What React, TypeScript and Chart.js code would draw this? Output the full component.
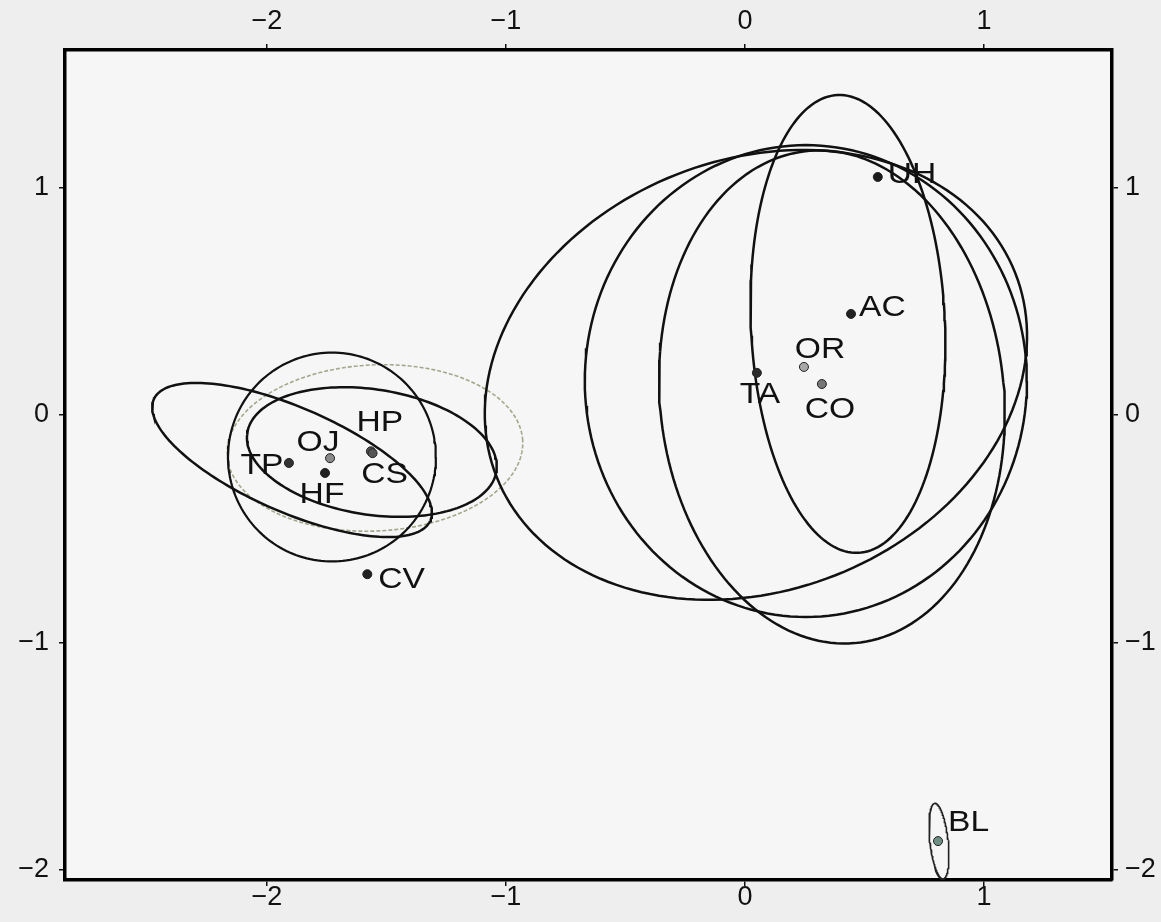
import React, { useEffect, useRef } from "react";
import { Chart, registerables } from "chart.js";

Chart.register(...registerables);

// ---------- data ----------
const POINT_NAMES = ["UH", "AC", "OR", "CO", "TA", "HP", "CS", "OJ", "HF", "TP", "CV", "BL"];
const POINT_X = [0.556, 0.444, 0.247, 0.322, 0.05, -1.565, -1.558, -1.736, -1.757, -1.908, -1.58, 0.808];
const POINT_Y = [1.046, 0.444, 0.211, 0.136, 0.185, -0.16, -0.168, -0.19, -0.255, -0.211, -0.7, -1.873];

// ellipses: centre, semi-axes, rotation (degrees)
const ELLIPSE_CX = [0.046, 0.255, 0.364, 0.431, -1.895, -1.728, -1.561, -1.548, 0.812];
const ELLIPSE_CY = [0.176, 0.149, 0.079, 0.4, -0.198, -0.185, -0.163, -0.145, -1.873];
const ELLIPSE_A = [1.175, 0.925, 0.72, 0.406, 0.637, 0.435, 0.528, 0.619, 0.038];
const ELLIPSE_B = [0.94, 1.037, 1.086, 1.007, 0.227, 0.459, 0.275, 0.365, 0.167];
const ELLIPSE_ANGLE = [25.7, 0, 5, 2.4, -25, 0, -9.5, 3, 6];

const X_TICKS = [-2, -1, 0, 1];
const X_TICK_LABELS = ["\u22122", "\u22121", "0", "1"];
const Y_TICKS = [-2, -1, 0, 1];
const Y_TICK_LABELS = ["\u22122", "\u22121", "0", "1"];

const X_MIN = -2.845;
const X_MAX = 1.536;
const Y_MIN = -2.044;
const Y_MAX = 1.604;

// ---------- styles ----------
const POINT_COLORS = ["#1a1a1a", "#222222", "#a8a8a8", "#777777", "#2a2a2a", "#555555", "#555555", "#8a8a8a", "#222222", "#333333", "#222222", "#6d8f84"];
const LABEL_DX = [10, 8, 16, 8, 3, 9, 12, -12, -3, -27, 11, 10];
const LABEL_DY = [-2, -6, -17, 26, 22, -29, 22, -15, 22, 3, 6, -18];
const LABEL_ALIGN: CanvasTextAlign[] = ["left", "left", "center", "center", "center", "center", "center", "center", "center", "center", "left", "left"];
const ELLIPSE_COLORS = ["#111", "#111", "#111", "#111", "#111", "#111", "#111", "#a3a88a", "#222"];
const ELLIPSE_WIDTHS = [2.5, 2.5, 2.5, 2.5, 2.5, 2.2, 2.5, 1.6, 1.6];
const ELLIPSE_DASH = [[], [], [], [], [], [], [], [4, 2], []];

const FONT_FAMILY = "'Liberation Sans', Arial, sans-serif";
const LABEL_STRETCH = 1.12;

function ellipsePoints(i: number) {
  const n = 180;
  const th = (ELLIPSE_ANGLE[i] * Math.PI) / 180;
  const pts: { x: number; y: number }[] = [];
  for (let k = 0; k <= n; k++) {
    const t = (2 * Math.PI * k) / n;
    const ca = ELLIPSE_A[i] * Math.cos(t);
    const sb = ELLIPSE_B[i] * Math.sin(t);
    pts.push({
      x: ELLIPSE_CX[i] + ca * Math.cos(th) - sb * Math.sin(th),
      y: ELLIPSE_CY[i] + ca * Math.sin(th) + sb * Math.cos(th),
    });
  }
  return pts;
}

const bgPlugin = {
  id: "bg",
  beforeDraw(chart: any) {
    const { ctx, width, height, chartArea } = chart;
    ctx.save();
    ctx.fillStyle = "#eeeeee";
    ctx.fillRect(0, 0, width, height);
    ctx.fillStyle = "#f6f6f6";
    ctx.fillRect(chartArea.left, chartArea.top, chartArea.right - chartArea.left, chartArea.bottom - chartArea.top);
    ctx.restore();
  },
};

const labelPlugin = {
  id: "pointLabels",
  afterDatasetsDraw(chart: any) {
    const { ctx, scales } = chart;
    ctx.save();
    ctx.font = `30px ${FONT_FAMILY}`;
    ctx.fillStyle = "#111";
    ctx.textBaseline = "middle";
    POINT_NAMES.forEach((name, i) => {
      const px = scales.x.getPixelForValue(POINT_X[i]);
      const py = scales.y.getPixelForValue(POINT_Y[i]);
      const tx = px + LABEL_DX[i];
      const ty = py + LABEL_DY[i];
      ctx.save();
      ctx.translate(tx, ty);
      ctx.scale(LABEL_STRETCH, 1);
      ctx.textAlign = LABEL_ALIGN[i];
      ctx.fillText(name, 0, 0);
      ctx.restore();
    });
    ctx.restore();
  },
};

function axisCommon(ticksArr: number[], labels: string[], padding: number) {
  return {
    type: "linear" as const,
    afterBuildTicks: (s: any) => {
      s.ticks = ticksArr.map((v) => ({ value: v }));
    },
    ticks: {
      callback: (v: any) => {
        const idx = ticksArr.indexOf(Number(v));
        return idx >= 0 ? labels[idx] : "";
      },
      font: { family: FONT_FAMILY, size: 27 },
      color: "#111",
      padding,
      maxRotation: 0,
      autoSkip: false,
    },
    grid: {
      display: true,
      drawOnChartArea: false,
      drawTicks: true,
      tickLength: 6,
      color: "#111",
      lineWidth: 1.5,
    },
    border: { display: true, color: "#000", width: 3.5 },
  };
}

export default function App() {
  const ref = useRef<HTMLCanvasElement>(null);
  useEffect(() => {
    document.body.style.margin = "0";
    const ellipseSets = ELLIPSE_CX.map((_, i) => ({
      type: "scatter" as const,
      data: ellipsePoints(i),
      showLine: true,
      fill: false,
      borderColor: ELLIPSE_COLORS[i],
      borderWidth: ELLIPSE_WIDTHS[i],
      borderDash: ELLIPSE_DASH[i],
      pointRadius: 0,
      tension: 0,
      order: 2,
      xAxisID: "x",
      yAxisID: "y",
    }));
    const pointSet = {
      type: "scatter" as const,
      data: POINT_X.map((x, i) => ({ x, y: POINT_Y[i] })),
      pointRadius: 4.5,
      pointBackgroundColor: POINT_COLORS,
      pointBorderColor: "#222",
      pointBorderWidth: 1,
      showLine: false,
      order: 1,
      xAxisID: "x",
      yAxisID: "y",
    };
    const chart = new Chart(ref.current!, {
      type: "scatter",
      data: { datasets: [pointSet as any, ...(ellipseSets as any)] },
      options: {
        animation: false,
        responsive: false,
        devicePixelRatio: 1,
        layout: { padding: 0 },
        plugins: { legend: { display: false }, tooltip: { enabled: false } },
        scales: {
          x: {
            ...axisCommon(X_TICKS, X_TICK_LABELS, -5),
            position: "bottom",
            min: X_MIN,
            max: X_MAX,
            afterFit: (s: any) => {
              s.height = 42;
            },
          },
          x2: {
            ...axisCommon(X_TICKS, X_TICK_LABELS, 6),
            position: "top",
            min: X_MIN,
            max: X_MAX,
            afterFit: (s: any) => {
              s.height = 50;
            },
          },
          y: {
            ...axisCommon(Y_TICKS, Y_TICK_LABELS, 10),
            position: "left",
            min: Y_MIN,
            max: Y_MAX,
            afterFit: (s: any) => {
              s.width = 65;
            },
          },
          y2: {
            ...axisCommon(Y_TICKS, Y_TICK_LABELS, 7),
            position: "right",
            min: Y_MIN,
            max: Y_MAX,
            afterFit: (s: any) => {
              s.width = 49;
            },
          },
        } as any,
      },
      plugins: [bgPlugin, labelPlugin],
    });
    return () => chart.destroy();
  }, []);
  return (
    <div style={{ width: 1161, height: 922 }}>
      <canvas ref={ref} width={1161} height={922} style={{ display: "block" }} />
    </div>
  );
}
